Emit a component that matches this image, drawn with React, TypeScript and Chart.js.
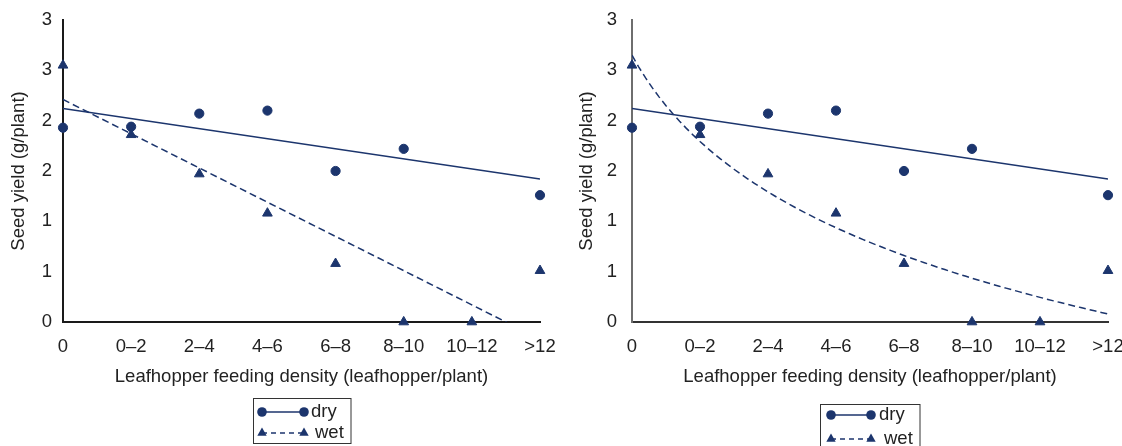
import React, { useEffect, useRef } from "react";
import { Chart, registerables } from "chart.js";

Chart.register(...registerables);

// ---------- data ----------
const xCategories = ["0", "0\u20132", "2\u20134", "4\u20136", "6\u20138", "8\u201310", "10\u201312", ">12"];
const yTickLabels = ["0", "1", "1", "2", "2", "3", "3"];

// dry: no observation at 10–12
const dryIndex = [0, 1, 2, 3, 4, 5, 7];
const dryYield = [1.93, 1.94, 2.07, 2.1, 1.5, 1.72, 1.26];

const wetIndex = [0, 1, 2, 3, 4, 5, 6, 7];
const wetYield = [2.55, 1.86, 1.47, 1.08, 0.58, 0, 0, 0.51];

// fitted trend lines
const dryFitIntercept = 2.12;
const dryFitSlope = -0.1;
const wetLinIntercept = 2.21;
const wetLinSlope = -0.34;
// logarithmic fit: y = a - b * ln(class number), class number = index + 1
const wetLogA = 2.65;
const wetLogB = 1.236;

const NAVY = "#1c356d";
const TEXT = "#222222";
const FONT = "'Liberation Sans', Arial, Helvetica, sans-serif";

const pts = (xs: number[], ys: number[]) => xs.map((x, i) => ({ x, y: ys[i] }));
const linePts = (a: number, b: number) => [0, 7].map((x) => ({ x, y: a + b * x }));
const logPts = () => {
  const out: { x: number; y: number }[] = [];
  for (let i = 0; i <= 70; i++) {
    const x = i / 10;
    out.push({ x, y: wetLogA - wetLogB * Math.log(x + 1) });
  }
  return out;
};

type LegendCfg = {
  box: { x: number; y: number; w: number; h: number };
  rows: number[];
  mx: [number, number];
  tx: [number, number];
};

function makeLegendPlugin(cfg: LegendCfg) {
  return {
    id: "boxLegend",
    afterDraw(chart: any) {
      const ctx = chart.ctx as CanvasRenderingContext2D;
      ctx.save();
      ctx.strokeStyle = "#333";
      ctx.lineWidth = 1;
      ctx.strokeRect(cfg.box.x, cfg.box.y, cfg.box.w, cfg.box.h);
      const items = [
        { label: "dry", style: "circle", r: 4.8, dash: [] as number[] },
        { label: "wet", style: "triangle", r: 5.4, dash: [5, 4] },
      ];
      items.forEach((it, k) => {
        const y = cfg.rows[k];
        ctx.strokeStyle = NAVY;
        ctx.lineWidth = 1.5;
        ctx.setLineDash(it.dash);
        ctx.beginPath();
        ctx.moveTo(cfg.mx[0], y);
        ctx.lineTo(cfg.mx[1], y);
        ctx.stroke();
        ctx.setLineDash([]);
        for (const mx of cfg.mx) {
          ctx.fillStyle = NAVY;
          if (it.style === "circle") {
            ctx.beginPath();
            ctx.arc(mx, y, it.r, 0, Math.PI * 2);
            ctx.fill();
          } else {
            const r = it.r;
            ctx.beginPath();
            ctx.moveTo(mx, y - r);
            ctx.lineTo(mx + r * Math.sin((2 * Math.PI) / 3), y - r * Math.cos((2 * Math.PI) / 3));
            ctx.lineTo(mx + r * Math.sin((4 * Math.PI) / 3), y - r * Math.cos((4 * Math.PI) / 3));
            ctx.closePath();
            ctx.fill();
          }
        }
        ctx.fillStyle = TEXT;
        ctx.font = `18.5px ${FONT}`;
        ctx.textBaseline = "middle";
        ctx.textAlign = "left";
        ctx.fillText(it.label, cfg.tx[k], y);
      });
      ctx.restore();
    },
  };
}

type PanelCfg = {
  curve: boolean;
  yWidth: number;
  yTickPad: number;
  yTitlePad: number;
  padRight: number;
  yAxisColor: string;
  xAxisColor: string;
  legend: LegendCfg;
};

function Panel({ cfg }: { cfg: PanelCfg }) {
  const ref = useRef<HTMLCanvasElement | null>(null);
  useEffect(() => {
    if (!ref.current) return;
    const wetFit = cfg.curve ? logPts() : linePts(wetLinIntercept, wetLinSlope);
    const chart = new Chart(ref.current, {
      type: "scatter",
      data: {
        datasets: [
          {
            label: "dry",
            data: pts(dryIndex, dryYield),
            pointStyle: "circle",
            pointRadius: 4.6,
            pointBorderWidth: 1,
            backgroundColor: NAVY,
            borderColor: NAVY,
            clip: false,
          } as any,
          {
            label: "wet",
            data: pts(wetIndex, wetYield),
            pointStyle: "triangle",
            pointRadius: 5.6,
            pointBorderWidth: 1,
            backgroundColor: NAVY,
            borderColor: NAVY,
            clip: false,
          } as any,
          {
            label: "dry fit",
            data: linePts(dryFitIntercept, dryFitSlope),
            showLine: true,
            pointRadius: 0,
            borderColor: NAVY,
            borderWidth: 1.5,
            tension: 0,
          } as any,
          {
            label: "wet fit",
            data: wetFit,
            showLine: true,
            pointRadius: 0,
            borderColor: NAVY,
            borderWidth: 1.5,
            borderDash: [7, 4],
            tension: 0,
          } as any,
        ],
      },
      options: {
        animation: false,
        responsive: false,
        devicePixelRatio: 1,
        layout: { padding: { top: 20, right: cfg.padRight, bottom: 0, left: 0 } },
        plugins: { legend: { display: false }, tooltip: { enabled: false } },
        scales: {
          x: {
            type: "linear",
            min: 0,
            max: 7,
            grid: { display: false, drawTicks: false },
            border: { display: true, color: cfg.xAxisColor, width: 2 },
            ticks: {
              stepSize: 1,
              autoSkip: false,
              maxRotation: 0,
              padding: 14,
              color: TEXT,
              font: { size: 18.5, family: FONT },
              callback: (v: any) => xCategories[Math.round(Number(v))] ?? "",
            },
            title: {
              display: true,
              text: "Leafhopper feeding density (leafhopper/plant)",
              color: TEXT,
              font: { size: 18.5, family: FONT },
              padding: { top: 0, bottom: 58 },
            },
            afterFit: (s: any) => {
              s.height = 124;
              s.paddingLeft = 0;
              s.paddingRight = 0;
            },
          },
          y: {
            min: 0,
            max: 3,
            grid: { display: false, drawTicks: false },
            border: { display: true, color: cfg.yAxisColor, width: 2 },
            ticks: {
              stepSize: 0.5,
              padding: cfg.yTickPad,
              color: TEXT,
              font: { size: 18.5, family: FONT },
              callback: (_v: any, i: number) => yTickLabels[i],
            },
            title: {
              display: true,
              text: "Seed yield (g/plant)",
              color: TEXT,
              font: { size: 18.5, family: FONT },
              padding: { top: cfg.yTitlePad, bottom: 0 },
            },
            afterFit: (s: any) => {
              s.width = cfg.yWidth;
              s.paddingTop = 0;
              s.paddingBottom = 0;
            },
          },
        },
      } as any,
      plugins: [makeLegendPlugin(cfg.legend)],
    });
    return () => chart.destroy();
  }, []);
  return <canvas ref={ref} width={561} height={446} style={{ display: "block", width: 561, height: 446 }} />;
}

const leftCfg: PanelCfg = {
  curve: false,
  yWidth: 63,
  yTickPad: 11,
  yTitlePad: 8,
  padRight: 21,
  yAxisColor: "#1a1a1a",
  xAxisColor: "#1a1a1a",
  legend: { box: { x: 253.5, y: 398.5, w: 97.5, h: 45 }, rows: [412, 433], mx: [262, 304], tx: [311, 315] },
};

const rightCfg: PanelCfg = {
  curve: true,
  yWidth: 71,
  yTickPad: 15,
  yTitlePad: 15,
  padRight: 14,
  yAxisColor: "#6e6e6e",
  xAxisColor: "#333333",
  legend: { box: { x: 259.5, y: 404.5, w: 99.5, h: 48 }, rows: [415, 439], mx: [270, 310], tx: [318, 323] },
};

export default function App() {
  return (
    <div style={{ position: "fixed", left: 0, top: 0, width: 1122, height: 446, background: "#fff", display: "flex" }}>
      <Panel cfg={leftCfg} />
      <Panel cfg={rightCfg} />
    </div>
  );
}
